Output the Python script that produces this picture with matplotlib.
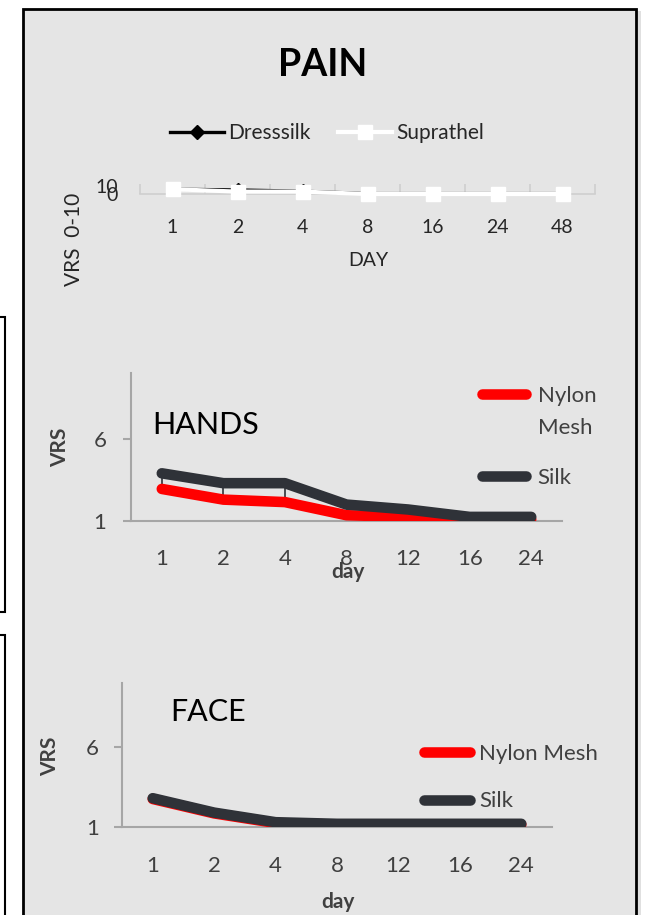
import matplotlib
matplotlib.use('Agg')
import matplotlib.pyplot as plt
from matplotlib.patches import Rectangle
from matplotlib.lines import Line2D
import numpy as np

plt.rcParams['font.family'] = ['Lato', 'DejaVu Sans']

# ---- data ----
pain_days = ['1', '2', '4', '8', '16', '24', '48']
pain_dresssilk = [6, 5, 3.5, 0.5, 0.5, 0.5, 0.5]
pain_suprathel = [6, 3, 3, 0, 0, 0, 0]

hands_days = ['1', '2', '4', '8', '12', '16', '24']
hands_nylon = [2.95, 2.3, 2.15, 1.35, 1.25, 1.1, 1.1]
hands_silk = [3.9, 3.3, 3.3, 2.0, 1.7, 1.25, 1.25]
hands_silk_err = [0.9, 0.95, 1.15, 0.7, 0.5, 0, 0]

face_days = ['1', '2', '4', '8', '12', '16', '24']
face_nylon = [2.75, 1.85, 1.25, 1.15, 1.15, 1.15, 1.15]
face_silk = [2.8, 1.9, 1.3, 1.2, 1.2, 1.2, 1.2]

W, H = 648, 915
RED = '#ff0000'
SILK = '#2f3238'
PANEL = '#e5e5e5'
AXIS = '#a6a6a6'
TXT = '#404040'
DARK = '#262626'


def fx(x):
    return x / W


def fy(y):
    return 1 - y / H


def px_axes(fig, left, top, right, bottom):
    ax = fig.add_axes([left / W, 1 - bottom / H, (right - left) / W, (bottom - top) / H])
    ax.set_facecolor('none')
    return ax


def px_rect(fig, left, top, right, bottom, **kw):
    r = Rectangle((fx(left), fy(bottom)), (right - left) / W, (bottom - top) / H,
                  transform=fig.transFigure, zorder=-10, **kw)
    fig.patches.append(r)


fig = plt.figure(figsize=(W / 100, H / 100), dpi=100, facecolor='white')

# background boxes
px_rect(fig, -10, 317, 5, 612, facecolor='white', edgecolor='black', lw=1.5)
px_rect(fig, -10, 635, 5, 930, facecolor='white', edgecolor='black', lw=1.5)
px_rect(fig, 636, 11, 641, 930, facecolor='#e0e0e0', edgecolor='none')
px_rect(fig, 23, 9, 636, 930, facecolor=PANEL, edgecolor='black', lw=2)

# ---------------- PAIN ----------------
ax = px_axes(fig, 140, 186, 595, 194)
x = np.arange(len(pain_days))
ax.plot(x, pain_dresssilk, color='black', lw=2.4, marker='D', ms=7,
        mfc='black', mec='black', clip_on=False, zorder=3, label='Dresssilk')
ax.plot(x, pain_suprathel, color='white', lw=3, marker='s', ms=10,
        mfc='white', mec='white', clip_on=False, zorder=4, label='Suprathel')
ax.set_xlim(-0.5, 6.5)
ax.set_ylim(0, 10)
ax.set_xticks(np.arange(-0.5, 7))
ax.set_xticks(x, pain_days, minor=True)
ax.tick_params(axis='x', which='major', direction='in', length=7, width=1.2,
               color='#cfcfcf', labelbottom=False)
ax.tick_params(axis='x', which='minor', length=0, pad=18, labelsize=14, labelcolor=DARK)
ax.set_yticks([0, 10])
ax.tick_params(axis='y', length=0, pad=16, labelsize=14, labelcolor=DARK)
for s in ['left', 'right', 'top']:
    ax.spines[s].set_visible(False)
ax.spines['bottom'].set_color('#cfcfcf')
ax.spines['bottom'].set_linewidth(1.2)
ax.legend(loc='center', bbox_to_anchor=(fx(327), fy(133)), bbox_transform=fig.transFigure,
          ncol=2, frameon=False, fontsize=15, handlelength=2.6, handletextpad=0.2,
          columnspacing=1.3, borderpad=0, borderaxespad=0, labelcolor=DARK)

fig.text(fx(323), fy(65), 'PAIN', fontsize=27, fontweight='bold', ha='center', va='center',
         color='black')
fig.text(fx(368), fy(261), 'DAY', fontsize=14, ha='center', va='center', color=DARK)
fig.text(fx(74), fy(239), 'VRS  0-10', fontsize=15, rotation=90, ha='center', va='center',
         color=DARK)


def style_vrs_axes(ax, days, pad_x, pad_y):
    xs = np.arange(len(days))
    ax.set_xlim(-0.5, 6.5)
    ax.set_ylim(1, 10)
    ax.set_xticks(xs, days)
    ax.set_yticks([1, 6])
    ax.tick_params(axis='x', length=0, pad=pad_x, labelsize=16, labelcolor=TXT)
    ax.tick_params(axis='y', direction='out', length=5.8, width=1.5, color=AXIS,
                   pad=pad_y, labelsize=16, labelcolor=TXT)
    for s in ['right', 'top']:
        ax.spines[s].set_visible(False)
    for s in ['left', 'bottom']:
        ax.spines[s].set_color(AXIS)
        ax.spines[s].set_linewidth(1.5)


# ---------------- HANDS ----------------
ax = px_axes(fig, 131, 373, 562, 521)
x = np.arange(len(hands_days))
nylon_line, = ax.plot(x, hands_nylon, color=RED, lw=7.6, solid_capstyle='round', zorder=3)
ax.errorbar(x, hands_silk, yerr=[hands_silk_err, np.zeros(len(x))], fmt='none',
            ecolor=SILK, elinewidth=1.2, capsize=0, zorder=2.5)
silk_line, = ax.plot(x, hands_silk, color=SILK, lw=7.6, solid_capstyle='round', zorder=4)
style_vrs_axes(ax, hands_days, 20, 12)

leg_kw = dict(loc='center left', bbox_transform=fig.transFigure, frameon=False, fontsize=16,
              handlelength=2.0, handletextpad=0.5, borderpad=0, borderaxespad=0,
              labelcolor=TXT)
leg1 = ax.legend([nylon_line, Line2D([], [], color='none')], ['Nylon', 'Mesh'],
                 bbox_to_anchor=(fx(482), fy(412)), labelspacing=0.55, **leg_kw)
ax.add_artist(leg1)
ax.legend([silk_line], ['Silk'], bbox_to_anchor=(fx(482), fy(478)), **leg_kw)

fig.text(fx(152), fy(425), 'HANDS', fontsize=22, ha='left', va='center', color='black')
fig.text(fx(60), fy(447), 'VRS', fontsize=15, fontweight='bold', rotation=90,
         ha='center', va='center', color=TXT)
fig.text(fx(348), fy(572), 'day', fontsize=15, fontweight='bold', ha='center', va='center',
         color=TXT)

# ---------------- FACE ----------------
ax = px_axes(fig, 122, 683, 552, 827)
x = np.arange(len(face_days))
nylon_line, = ax.plot(x, face_nylon, color=RED, lw=7.6, solid_capstyle='round', zorder=3)
silk_line, = ax.plot(x, face_silk, color=SILK, lw=7.6, solid_capstyle='round', zorder=4)
style_vrs_axes(ax, face_days, 21, 11)
leg_kw['handlelength'] = 2.07
leg_kw['handletextpad'] = 0.4
ax.legend([nylon_line, silk_line], ['Nylon Mesh', 'Silk'],
          bbox_to_anchor=(fx(424), fy(777.5)), labelspacing=1.25, **leg_kw)

fig.text(fx(170), fy(712), 'FACE', fontsize=22, ha='left', va='center', color='black')
fig.text(fx(50), fy(756), 'VRS', fontsize=15, fontweight='bold', rotation=90,
         ha='center', va='center', color=TXT)
fig.text(fx(338), fy(902), 'day', fontsize=15, fontweight='bold', ha='center', va='center',
         color=TXT)

fig.savefig('out.png', dpi=100, facecolor='white')
